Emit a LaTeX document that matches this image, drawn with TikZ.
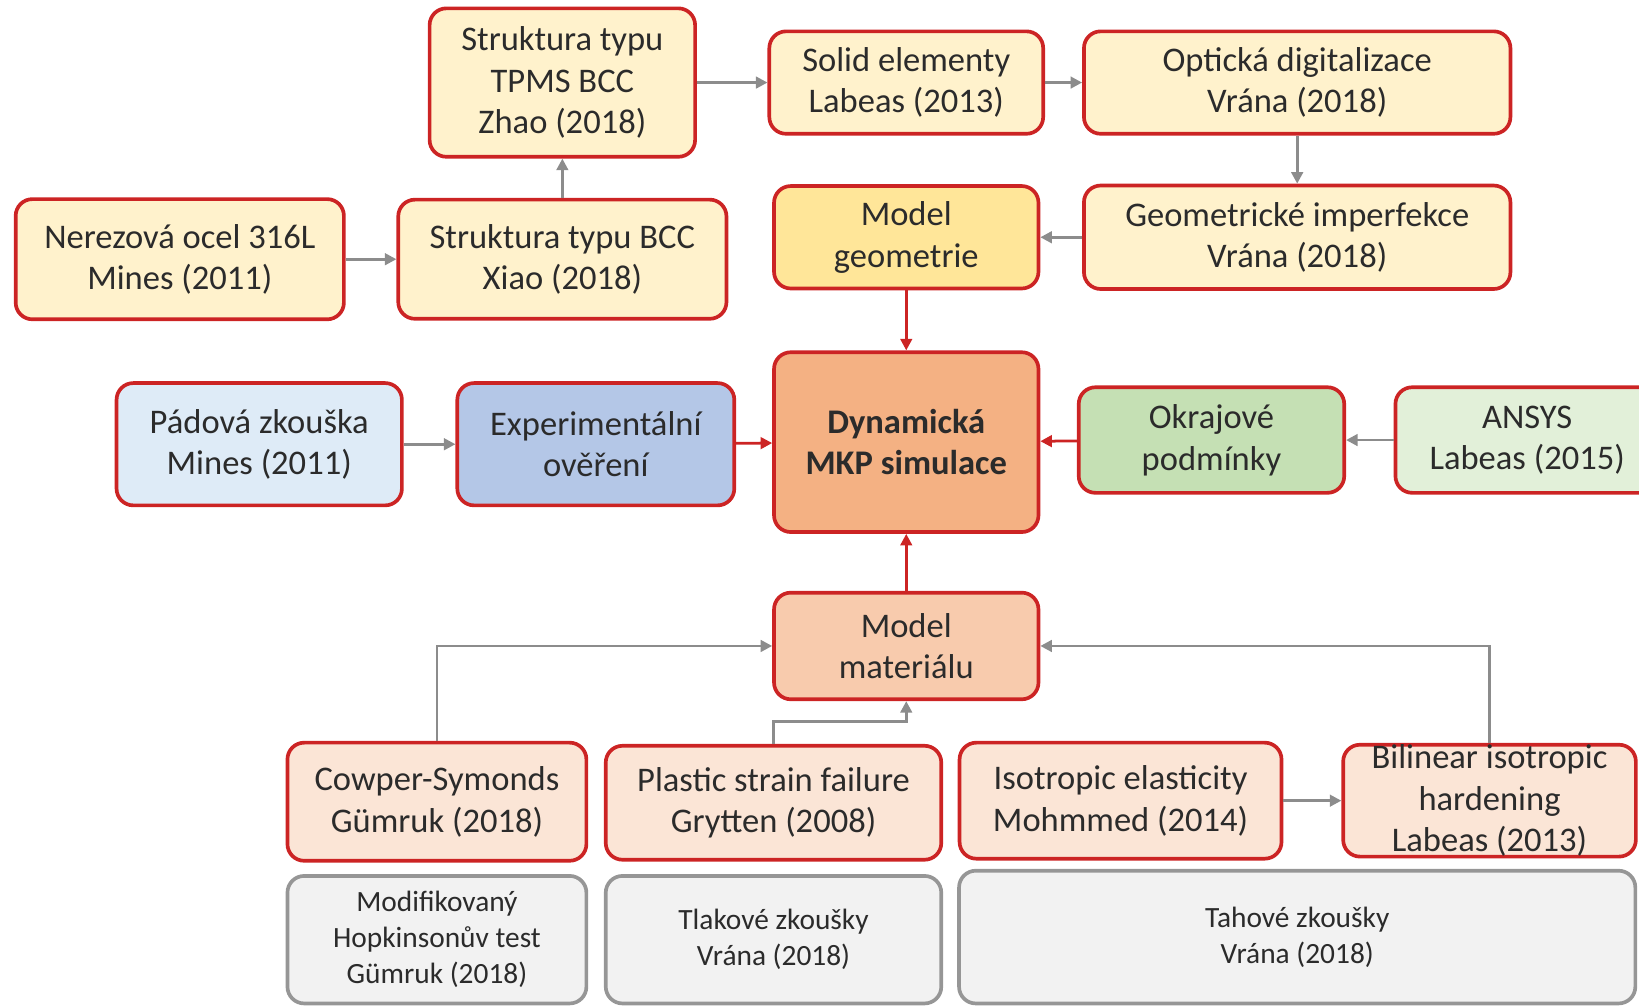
\documentclass[tikz,border=0pt]{standalone}
\usepackage{fontspec}
\setmainfont{Carlito}
\usetikzlibrary{positioning}
\usetikzlibrary{arrows.meta}
\definecolor{boxred}{HTML}{CC2424}
\definecolor{arrgray}{HTML}{8C8C8C}
\definecolor{txtgray}{HTML}{2B2B2B}
\tikzset{
    base/.style = {rectangle, rounded corners=1.6mm, line width=1pt, draw=boxred, align=center, text=txtgray, inner sep=0pt, font=\fontsize{9.4}{11.3}\selectfont},
    mybox/.style = {base, fill={rgb,255:red,255;green,242;blue,204}},
    myboxy/.style = {base, fill={rgb,255:red,255;green,230;blue,153}},
    myboxb/.style = {base, fill={rgb,255:red,222;green,235;blue,247}},
    myboxbd/.style = {base, fill={rgb,255:red,180;green,199;blue,231}},
    myboxo/.style = {base, fill={rgb,255:red,244;green,177;blue,131}, font=\fontsize{9.4}{11.3}\selectfont\bfseries},
    myboxg/.style = {base, fill={rgb,255:red,197;green,224;blue,180}},
    myboxgl/.style = {base, fill={rgb,255:red,226;green,240;blue,217}},
    myboxm/.style = {base, fill={rgb,255:red,248;green,203;blue,173}},
    myboxp/.style = {base, fill={rgb,255:red,251;green,229;blue,214}},
    myboxgr/.style = {base, draw={rgb,255:red,150;green,150;blue,150}, fill={rgb,255:red,242;green,242;blue,242}, font=\fontsize{8}{9.8}\selectfont},
    edger/.style = {-{Triangle[length=1.1mm,width=1.1mm]}, line width=0.75pt, boxred},
    edgeg/.style = {-{Triangle[length=1.1mm,width=1.1mm]}, line width=0.75pt, arrgray}
}

\begin{document}
\begin{tikzpicture}[x=0.1mm, y=-0.1mm]
\clip (0,0) rectangle (1568,961.5);

\node[mybox, minimum width=25.4mm, minimum height=14.2mm] at (538,79) (tpms) {Struktura typu\\TPMS BCC\\Zhao (2018)};
\node[mybox, minimum width=26.2mm, minimum height=9.8mm] at (867,79) (sol) {Solid elementy\\Labeas (2013)};
\node[mybox, minimum width=40.8mm, minimum height=9.8mm] at (1241,79) (opt) {Optická digitalizace\\Vrána (2018)};
\node[mybox, minimum width=31.4mm, minimum height=11.5mm] at (172,248) (ner) {Nerezová ocel 316L\\Mines (2011)};
\node[mybox, minimum width=31.4mm, minimum height=11.4mm] at (538,248) (bcc) {Struktura typu BCC\\Xiao (2018)};
\node[myboxy, minimum width=25.3mm, minimum height=9.8mm] at (867,227) (geo) {Model\\geometrie};
\node[mybox, minimum width=40.8mm, minimum height=9.9mm] at (1241,227) (imp) {Geometrické imperfekce\\Vrána (2018)};
%
\node[myboxb, minimum width=27.3mm, minimum height=11.7mm] at (248,425) (pad) {Pádová zkouška\\Mines (2011)};
\node[myboxbd, minimum width=26.5mm, minimum height=11.7mm] at (570,425) (exp) {Experimentální\\ověření};
\node[myboxo, minimum width=25.3mm, minimum height=17.2mm] at (867,423) (dyn) {Dynamická\\MKP simulace};
\node[myboxg, minimum width=25.4mm, minimum height=10.1mm] at (1159,421) (okr) {Okrajové\\podmínky};
\node[myboxgl, minimum width=25.2mm, minimum height=10.1mm] at (1461,421) (ans) {ANSYS\\Labeas (2015)};
%
\node[myboxm, minimum width=25.3mm, minimum height=10.2mm] at (867,618) (mat) {Model\\materiálu};
\node[myboxp, minimum width=28.6mm, minimum height=11.3mm] at (418,767) (cow) {Cowper-Symonds\\Gümruk (2018)};
\node[myboxp, minimum width=32.1mm, minimum height=10.9mm] at (740,768) (pla) {Plastic strain failure\\Grytten (2008)};
\node[myboxp, minimum width=30.8mm, minimum height=11.1mm] at (1072,766) (iso) {Isotropic elasticity\\Mohmmed (2014)};
\node[myboxp, minimum width=28mm, minimum height=10.7mm] at (1425,766) (bil) {};
\node[align=center, text=txtgray, font=\fontsize{9.4}{11.3}\selectfont] at (bil.center) (bilt) {Bilinear isotropic\\hardening\\Labeas (2013)};
%
\node[myboxgr, minimum width=28.6mm, minimum height=12.2mm] at (418,899) (hop) {Modifikovaný\\Hopkinsonův test\\Gümruk (2018)};
\node[myboxgr, minimum width=32.1mm, minimum height=12.2mm] at (740,899) (tla) {Tlakové zkoušky\\Vrána (2018)};
\node[myboxgr, minimum width=64.7mm, minimum height=12.7mm] at (1241,896.5) (tah) {Tahové zkoušky\\Vrána (2018)};
%
\coordinate (plak) at (740,690);
\draw[edgeg] (ner) -- (bcc);
\draw[edgeg] (bcc) -- (tpms);
\draw[edgeg] (tpms) -- (sol);
\draw[edgeg] (sol) -- (opt);
\draw[edgeg] (opt) -- (imp);
\draw[edgeg] (imp) -- (geo);
\draw[edger] (geo) -- (dyn);
\draw[edgeg] (pad) -- (exp);
\draw[edger] (exp) -- (dyn);
\draw[edger] (okr) -- (dyn);
\draw[edgeg] (ans) -- (okr);
\draw[edger] (mat) -- (dyn);
\draw[edgeg] (cow.north) |- (mat.west);
\draw[edgeg] (pla.north) -- (plak) -| (mat.south);
\draw[edgeg] (bil.north) |- (mat.east);
\draw[edgeg] (iso) -- (bil);

\end{tikzpicture}
\end{document}
